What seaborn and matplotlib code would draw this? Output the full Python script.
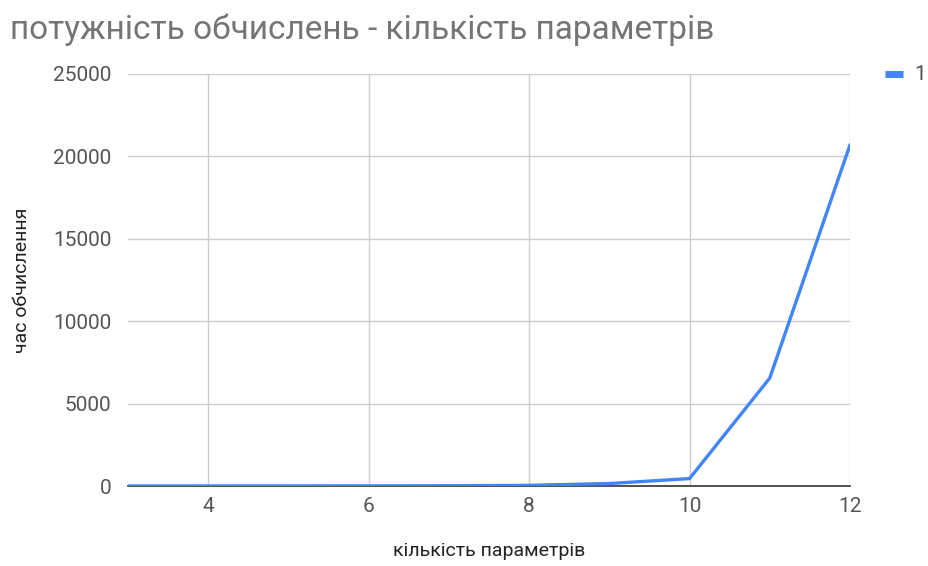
import matplotlib
matplotlib.use("Agg")
import matplotlib.pyplot as plt
import seaborn as sns
import pandas as pd

# number of parameters vs. computation time
params = [3, 4, 5, 6, 7, 8, 9, 10, 11, 12]
calc_time = [1, 2, 4, 8, 16, 40, 150, 450, 6550, 20700]
series_name = "1"

x_ticks = [4, 6, 8, 10, 12]
y_ticks = [0, 5000, 10000, 15000, 20000, 25000]

title = "потужність обчислень - кількість параметрів"
x_label = "кількість параметрів"
y_label = "час обчислення"

df = pd.DataFrame({"x": params, "y": calc_time, "series": series_name})

sns.set_theme(style="white")
plt.rcParams["font.family"] = ["Roboto", "DejaVu Sans"]

fig = plt.figure(figsize=(9.29, 5.66), dpi=100)
ax = fig.add_axes([128 / 929, 1 - 486 / 566, (850 - 128) / 929, (486 - 74) / 566])

sns.lineplot(data=df, x="x", y="y", hue="series", palette=["#4285F4"],
             linewidth=2.4, ax=ax, legend=False, zorder=3)

ax.set_xlim(3, 12)
ax.set_ylim(0, 25000)
ax.set_xticks(x_ticks)
ax.set_yticks(y_ticks)
ax.set_xticklabels([str(t) for t in x_ticks])
ax.set_yticklabels([str(t) for t in y_ticks])
ax.grid(True, color="#cccccc", linewidth=1.0)
ax.set_axisbelow(True)
for s in ["left", "top", "right"]:
    ax.spines[s].set_visible(False)
ax.spines["bottom"].set_color("#333333")
ax.spines["bottom"].set_linewidth(1.2)
ax.spines["bottom"].set_zorder(2)
ax.tick_params(axis="both", length=0, labelsize=15, colors="#555555")
ax.tick_params(axis="y", pad=12)
ax.tick_params(axis="x", pad=8)

ax.set_xlabel(x_label, fontsize=14, color="#222222", labelpad=19)
ax.set_ylabel(y_label, fontsize=14, color="#222222", labelpad=16)

fig.text(10 / 929, 1 - 30 / 566, title, fontsize=24, color="#757575",
         ha="left", va="center")

# legend entry at the top right
fig.add_artist(plt.Line2D([885 / 929, 903 / 929], [1 - 74 / 566, 1 - 74 / 566],
                          color="#4285F4", linewidth=5, solid_capstyle="butt",
                          transform=fig.transFigure))
fig.text(914 / 929, 1 - 74 / 566, series_name, fontsize=15, color="#555555",
         ha="left", va="center")

fig.savefig("out.png", dpi=100, facecolor="white")
